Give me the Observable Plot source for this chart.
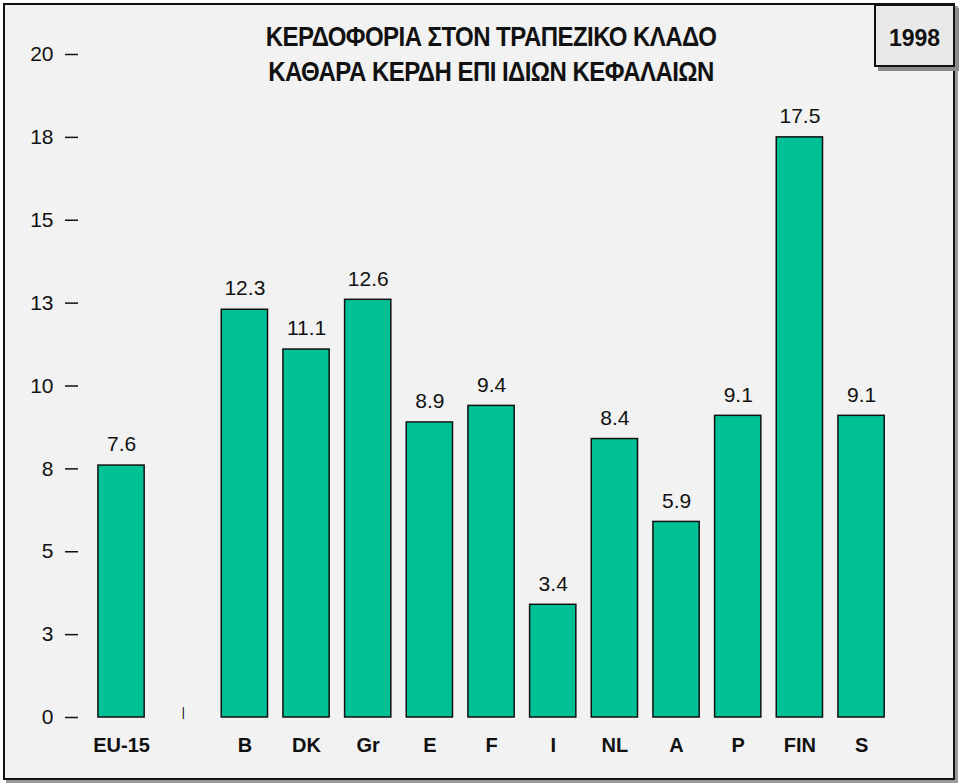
<!DOCTYPE html>
<html><head><meta charset="utf-8">
<script src="https://cdn.jsdelivr.net/npm/d3@7"></script>
<script src="https://cdn.jsdelivr.net/npm/@observablehq/plot@0.6"></script>
<style>
body{margin:0;background:#fff;font-family:"Liberation Sans",Arial,sans-serif;}
#wrap{position:relative;width:960px;height:784px;overflow:hidden;background:#fff;}
#frame{position:absolute;left:3px;top:3px;width:948px;height:773px;border:2px solid #111;background:#f2f2f2;box-shadow:3px 3px 0 #9a9a9a;}
#title{position:absolute;left:250px;width:482px;top:24px;text-align:center;font-weight:bold;font-size:24px;line-height:30px;letter-spacing:-0.55px;color:#111;white-space:nowrap;transform:scaleY(1.16);transform-origin:50% 50%;}
#year{position:absolute;left:874px;top:4px;width:77px;height:59px;border:2px solid #111;background:#e9e9e9;box-shadow:4px 4px 0 #8a8a8a;font-weight:bold;font-size:23px;line-height:64px;text-align:center;color:#111;}
#chart{position:absolute;left:0;top:0;}
</style>
</head><body>
<div id="wrap">
  <div id="frame"></div>
  <div id="chart"></div>
  <div id="title"><div>ΚΕΡΔΟΦΟΡΙΑ ΣΤΟΝ ΤΡΑΠΕΖΙΚΟ ΚΛΑΔΟ</div><div>ΚΑΘΑΡΑ ΚΕΡΔΗ ΕΠΙ ΙΔΙΩΝ ΚΕΦΑΛΑΙΩΝ</div></div>
  <div id="year">1998</div>
</div>
<script>
const categories = ["EU-15", " ", "B", "DK", "Gr", "E", "F", "I", "NL", "A", "P", "FIN", "S"];
const values = [7.6, null, 12.3, 11.1, 12.6, 8.9, 9.4, 3.4, 8.4, 5.9, 9.1, 17.5, 9.1];
const tickValues = [0, 2.5, 5, 7.5, 10, 12.5, 15, 17.5, 20];
const tickLabels = ["0", "3", "5", "8", "10", "13", "15", "18", "20"];

const data = categories.map((c, i) => ({category: c, value: values[i]}));
const bars = data.filter(d => d.value != null);
const blanks = data.filter(d => d.value == null);

const chart = Plot.plot({
  width: 960,
  height: 784,
  marginTop: 54,
  marginBottom: 67,
  marginLeft: 78,
  marginRight: 60,
  style: {background: "transparent", fontFamily: "Liberation Sans, Arial, sans-serif", color: "#111", overflow: "visible"},
  x: {domain: categories, range: [82.5, 899.6], padding: 0.25, round: false},
  y: {domain: [0, 20]},
  marks: [
    Plot.axisY({ticks: tickValues, tickFormat: d => tickLabels[tickValues.indexOf(d)], tickSize: 13, tickPadding: 12, fontSize: 21, stroke: "#111", strokeWidth: 1.5, fill: "#111", label: null}),
    Plot.axisX({tickSize: 0, tickPadding: 20, fontSize: 20, fontWeight: "bold", fill: "#111", tickFormat: d => d.trim(), label: null}),
    Plot.barY(bars, {x: "category", y: "value", fill: "#00c195", stroke: "#111", strokeWidth: 1.5}),
    Plot.text(bars, {x: "category", y: "value", text: d => d.value.toFixed(1), dy: -21, lineAnchor: "middle", fontSize: 21, fill: "#111"}),
    Plot.text(blanks, {x: "category", y: d => 0, text: d => "|", lineAnchor: "bottom", dy: -2, fontSize: 12, fill: "#000"})
  ]
});
document.getElementById("chart").appendChild(chart);
</script>
</body></html>
